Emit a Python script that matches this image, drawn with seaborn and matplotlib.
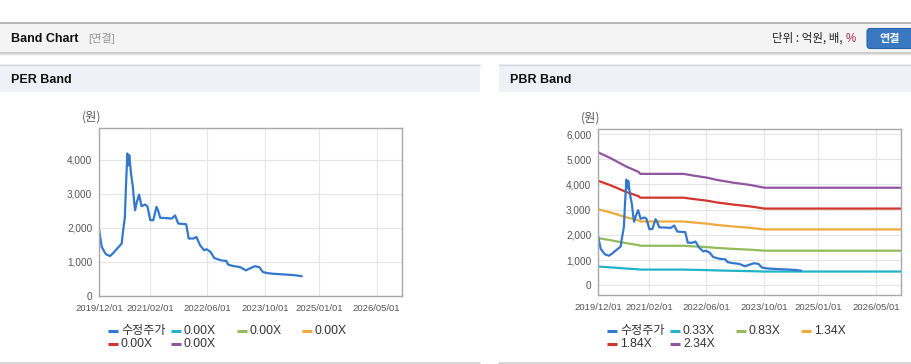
import numpy as np
import pandas as pd
import matplotlib
matplotlib.use("Agg")
import matplotlib.pyplot as plt
import seaborn as sns
from matplotlib.patches import Rectangle, FancyBboxPatch
from matplotlib.lines import Line2D

# ---------------- data ----------------
price_label = "수정주가"
price_dates = [
    "2019-12-01", "2019-12-10", "2019-12-22", "2020-01-19", "2020-02-01", "2020-03-01",
    "2020-03-28", "2020-04-25", "2020-06-07", "2020-06-16", "2020-07-04", "2020-07-13",
    "2020-07-25", "2020-08-04", "2020-08-10", "2020-08-25", "2020-09-10", "2020-09-19",
    "2020-09-28", "2020-10-13", "2020-11-01", "2020-11-22", "2020-12-22", "2021-01-10",
    "2021-02-04", "2021-03-01", "2021-03-28", "2021-04-10", "2021-04-28", "2021-06-22",
    "2021-08-04", "2021-09-01", "2021-09-28", "2021-12-04", "2021-12-25", "2022-02-04",
    "2022-02-28", "2022-04-01", "2022-05-04", "2022-05-25", "2022-06-28", "2022-07-28",
    "2022-09-04", "2022-09-22", "2022-11-07", "2022-11-25", "2023-01-07", "2023-03-04",
    "2023-04-22", "2023-05-22", "2023-07-07", "2023-08-13", "2023-09-13", "2023-10-16",
    "2023-12-04", "2024-03-04", "2024-05-28", "2024-07-04", "2024-08-07",
]
price_values = [
    1930, 1690, 1440, 1265, 1215, 1175,
    1265, 1375, 1540, 1830, 2320, 3200,
    4190, 3840, 4140, 3600, 3200, 2810,
    2520, 2760, 2980, 2640, 2690, 2640,
    2230, 2230, 2620, 2520, 2300, 2290,
    2275, 2370, 2130, 2110, 1690, 1690,
    1735, 1490, 1345, 1375, 1295, 1120,
    1070, 1050, 1030, 920, 880, 850,
    755, 805, 875, 850, 705, 675,
    655, 635, 615, 600, 580,
]

bps_dates = [
    "2019-12-01", "2020-03-07", "2020-07-28", "2020-11-04", "2020-11-19", "2021-11-19",
    "2022-02-13", "2022-06-04", "2022-08-28", "2023-01-16", "2023-06-04", "2023-10-04",
    "2026-12-01",
]
bps_values = [2252, 2162, 2009, 1923, 1889, 1889, 1859, 1825, 1786, 1739, 1701, 1654, 1654]

per_multiples = [0.00, 0.00, 0.00, 0.00, 0.00]
pbr_multiples = [0.33, 0.83, 1.34, 1.84, 2.34]
band_colors = ["#22b3c9", "#92bb5c", "#efaa3b", "#d3342b", "#91549f"]
price_color = "#3478cd"

x_tick_labels = ["2019/12/01", "2021/02/01", "2022/06/01", "2023/10/01", "2025/01/01", "2026/05/01"]
x_range = ["2019-12-01", "2026-12-01"]
per_y_ticks = [0, 1000, 2000, 3000, 4000]
pbr_y_ticks = [0, 1000, 2000, 3000, 4000, 5000, 6000]

# ---------------- style ----------------
sns.set_style("white")
FONTS = ["Liberation Sans", "Noto Sans CJK KR", "DejaVu Sans"]
KFONTS = ["Noto Sans CJK KR", "DejaVu Sans"]
plt.rcParams["font.family"] = FONTS

W, H = 912, 364
fig = plt.figure(figsize=(W / 100, H / 100), dpi=100)
fig.patch.set_facecolor("white")

bg = fig.add_axes([0, 0, 1, 1], zorder=-5)
bg.set_xlim(0, W)
bg.set_ylim(H, 0)
bg.axis("off")

# top header bar
bg.add_patch(Rectangle((0, 22), W, 31, facecolor="#f4f4f4", edgecolor="none"))
bg.plot([0, W], [22.5, 22.5], color="#aeaeae", lw=1.2)
bg.plot([0, W], [53, 53], color="#c4c4c4", lw=1.2)
bg.plot([0, W], [54.3, 54.3], color="#e2e2e2", lw=1.0)
bg.text(11, 38.5, "Band Chart", fontsize=9, fontweight="bold", color="#111111",
        va="center", ha="left", family=FONTS)
bg.text(88, 38.5, "[연결]", fontsize=8, color="#999999", va="center", ha="left", family=FONTS)
bg.text(845, 38.5, "단위 : 억원, 배, ", fontsize=8.3, color="#222222", va="center", ha="right",
        family=KFONTS)
bg.text(846, 38.5, "%", fontsize=8.3, color="#a0284a", va="center", ha="left", family=FONTS)
bg.add_patch(FancyBboxPatch((867, 28.5), 50, 20, boxstyle="round,pad=0,rounding_size=3",
                            facecolor="#3a79c2", edgecolor="#2b64a6", lw=0.8))
bg.text(890, 38.5, "연결", fontsize=8, color="white", fontweight="bold", va="center",
        ha="center", family=KFONTS)

# panels
panels = [(0, 480, "PER Band"), (499, 913, "PBR Band")]
for x0, x1, title in panels:
    bg.add_patch(Rectangle((x0, 64), x1 - x0, 28, facecolor="#eef2f7", edgecolor="none"))
    bg.plot([x0, x1], [64.5, 64.5], color="#d4d7db", lw=1.0)
    bg.plot([x0, x1], [363, 363], color="#cfcfcf", lw=1.2)
    bg.text(x0 + 11, 80, title, fontsize=9, fontweight="bold", color="#111111",
            va="center", ha="left", family=FONTS)


def px_axes(left, top, right, bottom):
    return fig.add_axes([left / W, 1 - bottom / H, (right - left) / W, (bottom - top) / H])


tick_dates = pd.to_datetime(x_tick_labels, format="%Y/%m/%d")
xlim = pd.to_datetime(x_range)
p_dates = pd.to_datetime(price_dates)
b_dates = pd.to_datetime(bps_dates)


def style_axes(ax, yticks, ylim):
    ax.set_xlim(xlim[0], xlim[1])
    ax.set_ylim(*ylim)
    ax.set_xticks(tick_dates)
    ax.set_xticklabels(x_tick_labels)
    ax.set_yticks(yticks)
    ax.set_yticklabels([f"{v:,}" for v in yticks])
    ax.grid(True, color="#e5e5e5", lw=0.8)
    ax.set_axisbelow(True)
    for s in ax.spines.values():
        s.set_color("#a9a9a9")
        s.set_linewidth(1.0)
    ax.tick_params(axis="y", length=3, width=0.8, color="#999999", labelsize=7.2,
                   labelcolor="#555555", pad=2)
    ax.tick_params(axis="x", length=0, labelsize=6.8, labelcolor="#555555", pad=6)
    ax.set_xlabel("")
    ax.set_ylabel("")


def draw_legend(x0, labels, colors):
    slots = [(108, 330.7), (171, 330.7), (237, 330.7), (302, 330.7), (108, 343.7), (171, 343.7)]
    for (sx, sy), lab, col in zip(slots, labels, colors):
        bg.add_line(Line2D([x0 + sx, x0 + sx + 10], [sy, sy], color=col, lw=2.2,
                           solid_capstyle="butt"))
        bg.text(x0 + sx + 13, sy, lab, fontsize=8.7, color="#333333", va="center",
                ha="left", family=FONTS)


# ---------- PER chart ----------
ax1 = px_axes(99.3, 128, 402, 296)
sns.lineplot(x=p_dates, y=price_values, ax=ax1, color=price_color, lw=1.6)
style_axes(ax1, per_y_ticks, (0, 4940))
bg.text(82, 117, "(원)", fontsize=8.8, color="#555555", va="center", ha="left", family=KFONTS)
per_labels = [price_label] + [f"{m:.2f}X" for m in per_multiples]
draw_legend(0, per_labels, [price_color] + band_colors)

# ---------- PBR chart ----------
ax2 = px_axes(598.3, 129, 901.3, 295)
band_df = pd.concat(
    [pd.DataFrame({"date": b_dates, "value": np.array(bps_values) * m, "band": f"{m:.2f}X"})
     for m in pbr_multiples],
    ignore_index=True)
sns.lineplot(data=band_df, x="date", y="value", hue="band", ax=ax2,
             palette=dict(zip([f"{m:.2f}X" for m in pbr_multiples], band_colors)),
             lw=1.6, legend=False)
sns.lineplot(x=p_dates, y=price_values, ax=ax2, color=price_color, lw=1.6)
style_axes(ax2, pbr_y_ticks, (-385, 6200))
bg.text(581, 118, "(원)", fontsize=8.8, color="#555555", va="center", ha="left", family=KFONTS)
pbr_labels = [price_label] + [f"{m:.2f}X" for m in pbr_multiples]
draw_legend(499, pbr_labels, [price_color] + band_colors)

fig.savefig("out.png", dpi=100, facecolor="white")
